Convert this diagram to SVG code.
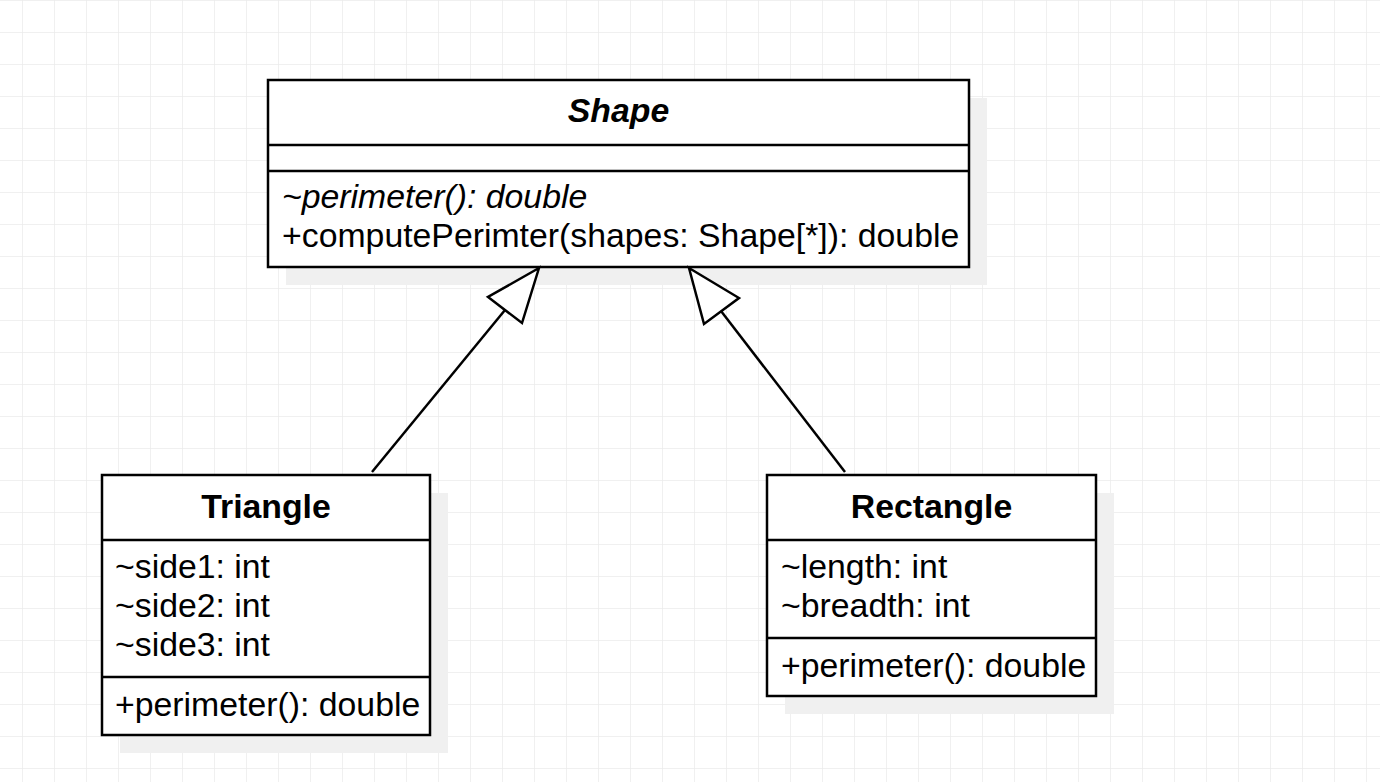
<svg xmlns="http://www.w3.org/2000/svg" width="1380" height="782" viewBox="0 0 1380 782">
  <defs>
    <pattern id="grid" x="22" y="0" width="32" height="32" patternUnits="userSpaceOnUse">
      <path d="M0 0 V32 M0 0 H32" fill="none" stroke="#ebebeb" stroke-width="1.5"/>
    </pattern>
    <style>
      .box { fill: #ffffff; stroke: #000000; stroke-width: 2.5; }
      .shadow { fill: #f0f0f0; stroke: none; }
      .div { stroke: #000000; stroke-width: 2.5; fill: none; }
      .t { font-family: "Liberation Sans", Arial, sans-serif; font-size: 33.8px; fill: #000000; }
      .title { font-weight: bold; text-anchor: middle; }
      .it { font-style: italic; }
      .edge { stroke: #000000; stroke-width: 2.5; fill: none; }
      .head { fill: #ffffff; stroke: #000000; stroke-width: 2.5; stroke-linejoin: miter; }
    </style>
  </defs>
  <rect width="1380" height="782" fill="#ffffff"/>
  <rect width="1380" height="782" fill="url(#grid)"/>

  <g id="Shape">
    <rect class="shadow" x="286" y="98" width="701" height="187"/>
    <rect class="box" x="268" y="80" width="701" height="187"/>
    <line class="div" x1="268" y1="145" x2="969" y2="145"/>
    <line class="div" x1="268" y1="171" x2="969" y2="171"/>
    <text class="t title it" x="618.5" y="122">Shape</text>
    <text class="t it" x="282" y="208">~perimeter(): double</text>
    <text class="t" x="282" y="247">+computePerimter(shapes: Shape[*]): double</text>
  </g>

  <g id="Triangle">
    <rect class="shadow" x="120" y="493" width="328" height="260"/>
    <rect class="box" x="102" y="475" width="328" height="260"/>
    <line class="div" x1="102" y1="540" x2="430" y2="540"/>
    <line class="div" x1="102" y1="677" x2="430" y2="677"/>
    <text class="t title" x="266" y="518">Triangle</text>
    <text class="t" x="115" y="578">~side1: int</text>
    <text class="t" x="115" y="617">~side2: int</text>
    <text class="t" x="115" y="656">~side3: int</text>
    <text class="t" x="115" y="716">+perimeter(): double</text>
  </g>

  <g id="Rectangle">
    <rect class="shadow" x="785" y="493" width="329" height="221"/>
    <rect class="box" x="767" y="475" width="329" height="221"/>
    <line class="div" x1="767" y1="540" x2="1096" y2="540"/>
    <line class="div" x1="767" y1="638" x2="1096" y2="638"/>
    <text class="t title" x="931.5" y="518">Rectangle</text>
    <text class="t" x="781" y="578">~length: int</text>
    <text class="t" x="781" y="617">~breadth: int</text>
    <text class="t" x="781" y="677">+perimeter(): double</text>
  </g>

  <g id="connectors">
    <line class="edge" x1="372" y1="472" x2="505" y2="310"/>
    <polygon class="head" points="539,268 488,297 522,323"/>
    <line class="edge" x1="845" y1="472" x2="721" y2="311"/>
    <polygon class="head" points="689,268 739,298 704,324"/>
  </g>
</svg>
